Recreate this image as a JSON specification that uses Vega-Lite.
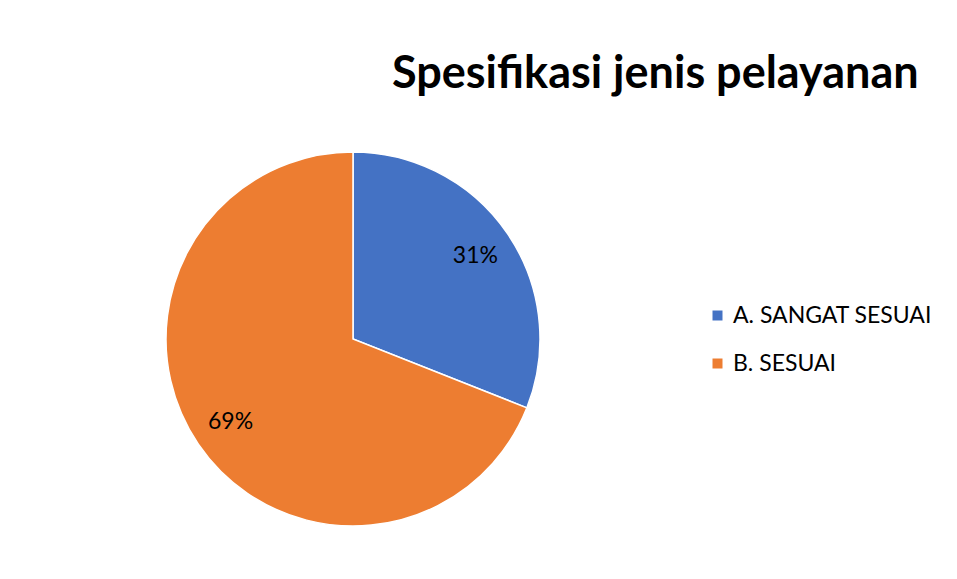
{
  "$schema": "https://vega.github.io/schema/vega-lite/v6.json",
  "autosize": "none",
  "width": 374,
  "height": 374,
  "padding": {"left": 166, "top": 152, "right": 417, "bottom": 53},
  "background": "white",
  "config": {"view": {"stroke": null}, "font": "Lato"},
  "title": {
    "text": "Spesifikasi jenis pelayanan",
    "anchor": "start",
    "frame": "group",
    "orient": "top",
    "baseline": "alphabetic",
    "offset": 16,
    "dx": 226,
    "font": "Lato",
    "fontSize": 45,
    "fontWeight": "bold",
    "color": "#000000"
  },
  "data": {
    "values": [
      {"category": "A. SANGAT SESUAI", "value": 31, "label": "31%"},
      {"category": "B. SESUAI", "value": 69, "label": "69%"}
    ]
  },
  "encoding": {
    "theta": {"field": "value", "type": "quantitative", "stack": true},
    "color": {
      "field": "category",
      "type": "nominal",
      "scale": {"domain": ["A. SANGAT SESUAI", "B. SESUAI"], "range": ["#4472C4", "#ED7D31"]},
      "legend": {
        "title": null,
        "orient": "none",
        "legendX": 540,
        "legendY": 152,
        "symbolType": "square",
        "symbolSize": 100,
        "symbolStrokeWidth": 0,
        "labelFont": "Lato",
        "labelFontSize": 23,
        "labelLimit": 400,
        "labelColor": "#000000",
        "labelOffset": 4,
        "rowPadding": 24
      }
    }
  },
  "layer": [
    {"mark": {"type": "arc", "stroke": "white", "strokeWidth": 1.5}},
    {
      "mark": {"type": "text", "radius": 148, "fontSize": 23, "font": "Lato", "color": "#000000"},
      "encoding": {"text": {"field": "label", "type": "nominal"}, "color": {"value": "#000000"}}
    }
  ]
}
